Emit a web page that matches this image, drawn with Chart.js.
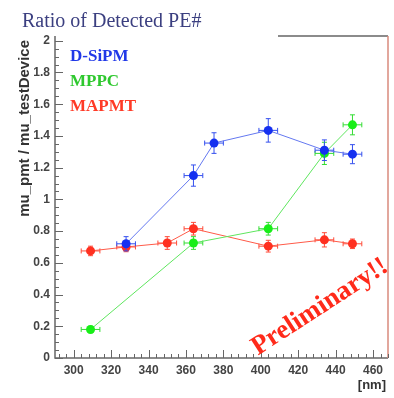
<!DOCTYPE html>
<html>
<head>
<meta charset="utf-8">
<script src="https://cdn.jsdelivr.net/npm/chart.js@4.4.0/dist/chart.umd.min.js"></script>
<style>
  html, body { margin: 0; padding: 0; background: #fff; }
  #wrap { width: 394px; height: 398px; position: relative; }
</style>
</head>
<body>
<div id="wrap"><canvas id="myChart" width="394" height="398"></canvas></div>
<script>
// values
const seriesNames = ['D-SiPM', 'MPPC', 'MAPMT'];

const dsipmX = [328, 364, 375, 404, 434, 449];
const dsipmY = [0.72, 1.15, 1.355, 1.435, 1.31, 1.285];
const dsipmErr = [0.045, 0.067, 0.065, 0.074, 0.065, 0.06];

const mppcX = [309, 364, 404, 434, 449];
const mppcY = [0.18, 0.725, 0.815, 1.29, 1.47];
const mppcErr = [0.02, 0.04, 0.04, 0.07, 0.063];

const mapmtX = [309, 328, 350, 364, 404, 434, 449];
const mapmtY = [0.675, 0.70, 0.725, 0.815, 0.705, 0.745, 0.72];
const mapmtErr = [0.03, 0.03, 0.04, 0.04, 0.037, 0.045, 0.03];

const xErr = 5;
const xTickLabels = [300, 320, 340, 360, 380, 400, 420, 440, 460];
const yTickLabels = [0, 0.2, 0.4, 0.6, 0.8, 1, 1.2, 1.4, 1.6, 1.8, 2];

const pts = (xs, ys) => xs.map((v, i) => ({ x: v, y: ys[i] }));

const errorBars = {
    id: 'errorBars',
    beforeDatasetDraw(chart, args) {
        const ds = chart.data.datasets[args.index];
        const xs = chart.scales.x, ys = chart.scales.y;
        const ctx = chart.ctx;
        ctx.save();
        ctx.strokeStyle = ds.barColor;
        ctx.lineWidth = 1;
        ds.data.forEach((p, i) => {
            const px = xs.getPixelForValue(p.x), py = ys.getPixelForValue(p.y);
            const x0 = xs.getPixelForValue(p.x - ds.xErr), x1 = xs.getPixelForValue(p.x + ds.xErr);
            const y0 = ys.getPixelForValue(p.y - ds.yErr[i]), y1 = ys.getPixelForValue(p.y + ds.yErr[i]);
            ctx.beginPath();
            ctx.moveTo(x0, py); ctx.lineTo(x1, py);
            ctx.moveTo(x0, py - 2.5); ctx.lineTo(x0, py + 2.5);
            ctx.moveTo(x1, py - 2.5); ctx.lineTo(x1, py + 2.5);
            ctx.moveTo(px, y0); ctx.lineTo(px, y1);
            ctx.moveTo(px - 2.5, y0); ctx.lineTo(px + 2.5, y0);
            ctx.moveTo(px - 2.5, y1); ctx.lineTo(px + 2.5, y1);
            ctx.stroke();
        });
        ctx.restore();
    }
};

// ROOT style frame, inward ticks and the free text
const decorations = {
    id: 'decorations',
    beforeDatasetsDraw(chart) {
        const ctx = chart.ctx;
        const a = chart.chartArea;
        const xs = chart.scales.x, ys = chart.scales.y;
        ctx.save();
        ctx.strokeStyle = '#666';
        ctx.lineWidth = 1.5;
        ctx.beginPath();
        ctx.moveTo(a.left, a.top); ctx.lineTo(a.left, a.bottom); ctx.lineTo(a.right, a.bottom);
        ctx.moveTo(278, a.top); ctx.lineTo(a.right, a.top);
        ctx.stroke();
        ctx.strokeStyle = '#d88a7c';
        ctx.beginPath();
        ctx.moveTo(a.right, a.top); ctx.lineTo(a.right, a.bottom);
        ctx.stroke();

        ctx.strokeStyle = '#666';
        ctx.lineWidth = 1;
        ctx.beginPath();
        for (let v = 0; v <= 2.0001; v += 0.05) {
            const py = Math.round(ys.getPixelForValue(v)) + 0.5;
            const major = Math.abs(v / 0.2 - Math.round(v / 0.2)) < 1e-6;
            ctx.moveTo(a.left, py); ctx.lineTo(a.left + (major ? 8 : 4), py);
        }
        for (let v = 292; v <= 468; v += 4) {
            const px = Math.round(xs.getPixelForValue(v)) + 0.5;
            const major = v % 20 === 0;
            ctx.moveTo(px, a.bottom); ctx.lineTo(px, a.bottom - (major ? 8 : 4));
        }
        ctx.stroke();
        ctx.restore();
    },
    afterDraw(chart) {
        const ctx = chart.ctx;
        ctx.save();
        ctx.textBaseline = 'middle';
        ctx.textAlign = 'left';
        ctx.fillStyle = '#3b3f80';
        ctx.font = '20px "Liberation Serif"';
        ctx.fillText('Ratio of Detected PE#', 22, 22);

        const legendColors = ['#2038e8', '#2ec82e', '#ff3a26'];
        ctx.font = 'bold 17px "Liberation Serif"';
        seriesNames.forEach((n, i) => {
            ctx.fillStyle = legendColors[i];
            ctx.fillText(n, 70, 57 + i * 25);
        });

        ctx.fillStyle = '#333';
        ctx.font = 'bold 13px "Liberation Sans"';
        ctx.textAlign = 'right';
        ctx.fillText('[nm]', 386, 385);

        ctx.save();
        ctx.translate(25, 40);
        ctx.rotate(-Math.PI / 2);
        ctx.textAlign = 'right';
        ctx.font = 'bold 15px "Liberation Sans"';
        ctx.fillText('mu_pmt / mu_testDevice', 0, 0);
        ctx.restore();

        ctx.save();
        ctx.translate(320, 307);
        ctx.rotate(-33 * Math.PI / 180);
        ctx.textAlign = 'center';
        ctx.fillStyle = '#ff2a1a';
        ctx.font = 'bold 27px "Liberation Serif"';
        ctx.fillText('Preliminary!!', 0, 0);
        ctx.restore();
        ctx.restore();
    }
};

const ctx = document.getElementById('myChart').getContext('2d');
new Chart(ctx, {
    type: 'scatter',
    data: {
        datasets: [
            {
                label: seriesNames[0],
                data: pts(dsipmX, dsipmY),
                yErr: dsipmErr, xErr: xErr,
                showLine: true,
                borderColor: '#6478f0', borderWidth: 1,
                barColor: '#3550ee',
                pointBackgroundColor: '#1530f0', pointBorderWidth: 0, pointRadius: 4.5,
                order: 0
            },
            {
                label: seriesNames[1],
                data: pts(mppcX, mppcY),
                yErr: mppcErr, xErr: xErr,
                showLine: true,
                borderColor: '#5ee65e', borderWidth: 1,
                barColor: '#33dd33',
                pointBackgroundColor: '#18ee18', pointBorderWidth: 0, pointRadius: 4.5,
                order: 1
            },
            {
                label: seriesNames[2],
                data: pts(mapmtX, mapmtY),
                yErr: mapmtErr, xErr: xErr,
                showLine: true,
                borderColor: '#ff5a48', borderWidth: 1,
                barColor: '#ff4a38',
                pointBackgroundColor: '#ff3020', pointBorderWidth: 0, pointRadius: 4.5,
                order: 2
            }
        ]
    },
    options: {
        responsive: false,
        animation: false,
        layout: { padding: { top: 36, right: 6, bottom: 0, left: 0 } },
        plugins: { legend: { display: false }, tooltip: { enabled: false }, title: { display: false } },
        scales: {
            x: {
                type: 'linear',
                min: 290, max: 468,
                afterFit: (s) => { s.height = 40; },
                afterBuildTicks: (s) => { s.ticks = xTickLabels.map(v => ({ value: v })); },
                grid: { display: false, drawTicks: false },
                border: { display: false },
                ticks: { padding: 5, color: '#444', font: { family: 'Liberation Sans', size: 12, weight: 'bold' } }
            },
            y: {
                min: 0, max: 2.03,
                afterFit: (s) => { s.width = 55; },
                afterBuildTicks: (s) => { s.ticks = yTickLabels.map(v => ({ value: v })); },
                grid: { display: false, drawTicks: false },
                border: { display: false },
                ticks: {
                    padding: 5, color: '#444',
                    font: { family: 'Liberation Sans', size: 12, weight: 'bold' },
                    callback: (v) => String(+v.toFixed(1))
                }
            }
        }
    },
    plugins: [errorBars, decorations]
});
</script>
</body>
</html>
